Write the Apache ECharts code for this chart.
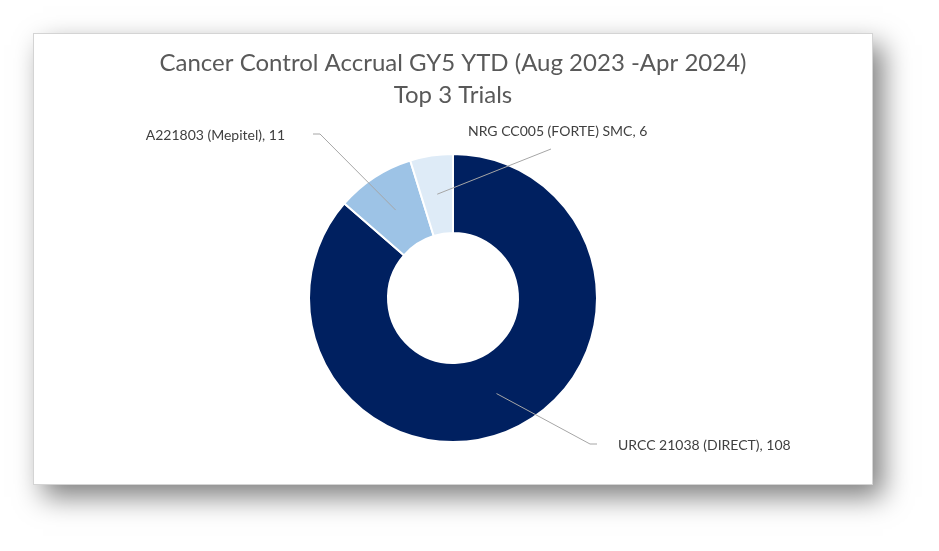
<!DOCTYPE html>
<html>
<head>
<meta charset="utf-8">
<script src="https://cdn.jsdelivr.net/npm/echarts@6/dist/echarts.min.js"></script>
<style>
  html, body { margin: 0; padding: 0; background: #ffffff; }
  #panel { position: absolute; left: 33px; top: 33px; width: 838px; height: 450px;
           border: 1px solid #d4d4d4; background: #ffffff;
           box-shadow: 10px 12px 26px rgba(0,0,0,0.5); }
  #chart { position: absolute; left: 0; top: 0; width: 906px; height: 551px; }
</style>
</head>
<body>
<div id="panel"></div>
<div id="chart"></div>
<script>
// ---- data ----
const titleLines = ['Cancer Control Accrual GY5 YTD (Aug 2023 -Apr 2024)', 'Top 3 Trials'];
const categories = ['URCC 21038 (DIRECT)', 'A221803 (Mepitel)', 'NRG CC005 (FORTE) SMC'];
const values = [108, 11, 6];
const sliceColors = ['#002060', '#9dc3e6', '#deebf7'];

// ---- label placement (annotation layout, page px) ----
const labelPlace = [
  { x: 618, y: 445, align: 'left',  bend: [590, 444], end: [597, 444] },
  { x: 285, y: 135, align: 'right', bend: [320, 134], end: [313, 134] },
  { x: 468, y: 131, align: 'left',  bend: [551, 149], end: [551, 149] }
];

const chart = echarts.init(document.getElementById('chart'), null, { renderer: 'canvas' });
const FONT = 'Lato';

const pieData = categories.map((c, i) => ({ name: c, value: values[i], itemStyle: { color: sliceColors[i] } }));
const ghostData = categories.map((c, i) => ({ name: c, value: values[i] }));

chart.setOption({
  animation: false,
  title: {
    text: titleLines.join('\n'),
    left: 'center',
    top: 42,
    textStyle: { fontFamily: FONT, fontSize: 24, fontWeight: 'normal', color: '#595959', lineHeight: 32 }
  },
  series: [
    {
      type: 'pie',
      z: 2,
      center: [453, 298],
      radius: [65, 144],
      startAngle: 90,
      clockwise: true,
      silent: true,
      label: { show: false },
      labelLine: { show: false },
      itemStyle: { borderColor: '#ffffff', borderWidth: 2 },
      data: pieData
    },
    {
      type: 'pie',
      z: 5,
      center: [453, 298],
      radius: [0, 105],
      startAngle: 90,
      clockwise: true,
      silent: true,
      avoidLabelOverlap: false,
      itemStyle: { color: 'rgba(0,0,0,0)' },
      label: {
        show: true,
        position: 'outside',
        formatter: p => p.name + ', ' + p.value,
        fontFamily: FONT,
        fontSize: 14,
        color: '#404040'
      },
      labelLine: { show: true, length: 10, length2: 10, lineStyle: { color: '#a6a6a6', width: 1 } },
      labelLayout: function (params) {
        const L = labelPlace[params.dataIndex];
        const start = params.labelLinePoints ? params.labelLinePoints[0] : L.bend;
        return {
          x: L.x, y: L.y, align: L.align, verticalAlign: 'middle',
          labelLinePoints: [start, L.bend, L.end]
        };
      },
      data: ghostData
    }
  ]
});
</script>
</body>
</html>
